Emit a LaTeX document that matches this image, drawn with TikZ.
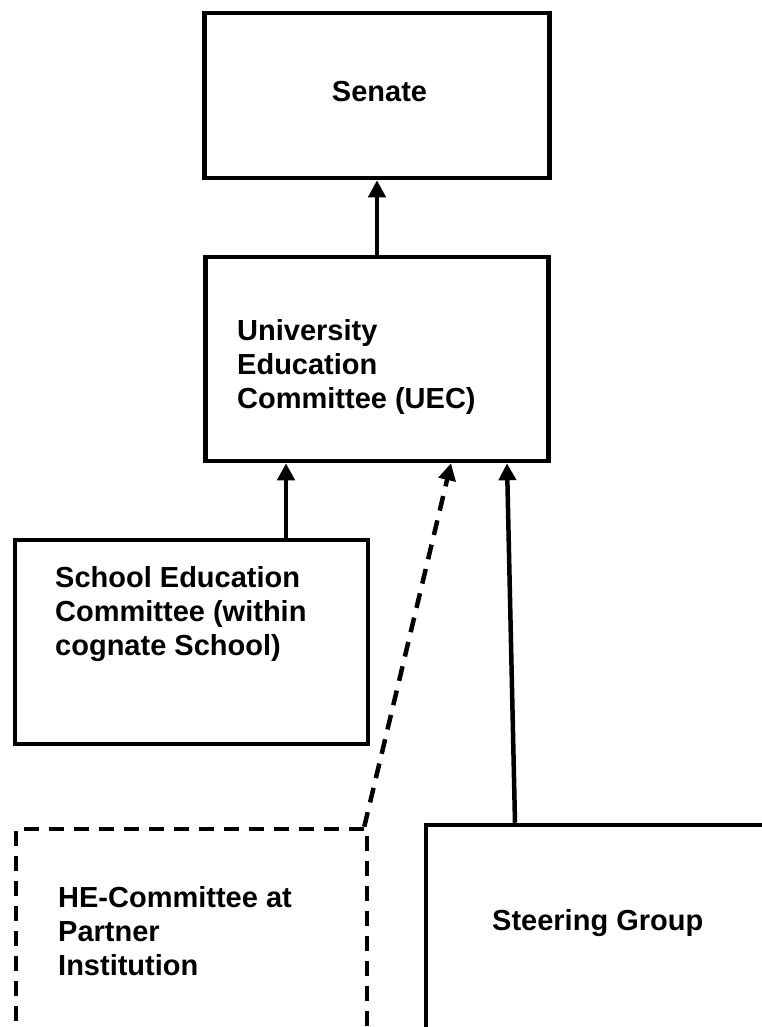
\documentclass[tikz,border=0pt]{standalone}
\usepackage{fontspec}
\setmainfont{Liberation Sans}
\usetikzlibrary{arrows.meta, positioning}

\begin{document}
\begin{tikzpicture}[x=1pt, y=-1pt,
    box/.style={draw, rectangle, line width=4.5pt, inner sep=0pt},
    lbl/.style={font=\fontsize{29}{34}\selectfont\bfseries, inner sep=0pt, align=left},
    arr/.style={line width=4.5pt, -{Triangle[length=17pt,width=17pt]}},
    dashline/.style={dash pattern=on 15pt off 10pt}]

    \useasboundingbox (0,0) rectangle (762,1027);
    \clip (0,0) rectangle (762,1027);

    % boxes
    \node [box, minimum width=345pt, minimum height=165pt] (senate) at (377, 95.5) {};
    \node [box, minimum width=343pt, minimum height=204pt] (uec) at (377, 359) {};
    \node [box, minimum width=353pt, minimum height=204pt] (school) at (191.5, 642) {};
    \node [box, dashline, minimum width=351pt, minimum height=271pt] (he) at (191.5, 964.5) {};
    \node [box, minimum width=374pt, minimum height=275pt] (steer) at (613, 962.5) {};

    % texts
    \node [lbl, anchor=base] (senatetext) at (379.5, 102) {Senate};
    \node [lbl, anchor=north west] (uectext) at (237, 319) {University\\Education\\Committee (UEC)};
    \node [lbl, anchor=north west] (schooltext) at (55, 566) {School Education\\Committee (within\\cognate School)};
    \node [lbl, anchor=north west] (hetext) at (58, 886) {HE-Committee at\\Partner\\Institution};
    \node [lbl, anchor=base west] (steertext) at (492, 930) {Steering Group};

    % connectors
    \draw [arr] (uec.north) -- (senate.south);
    \draw [arr] ([xshift=94.5pt]school.north) -- ([xshift=94.5pt]school.north |- uec.south);
    \draw [arr, dashline] ([xshift=-5pt]he.north east) -- ([xshift=74pt]uec.south);
    \draw [arr] ([xshift=-98pt]steer.north) -- ([xshift=130pt]uec.south);
\end{tikzpicture}
\end{document}
